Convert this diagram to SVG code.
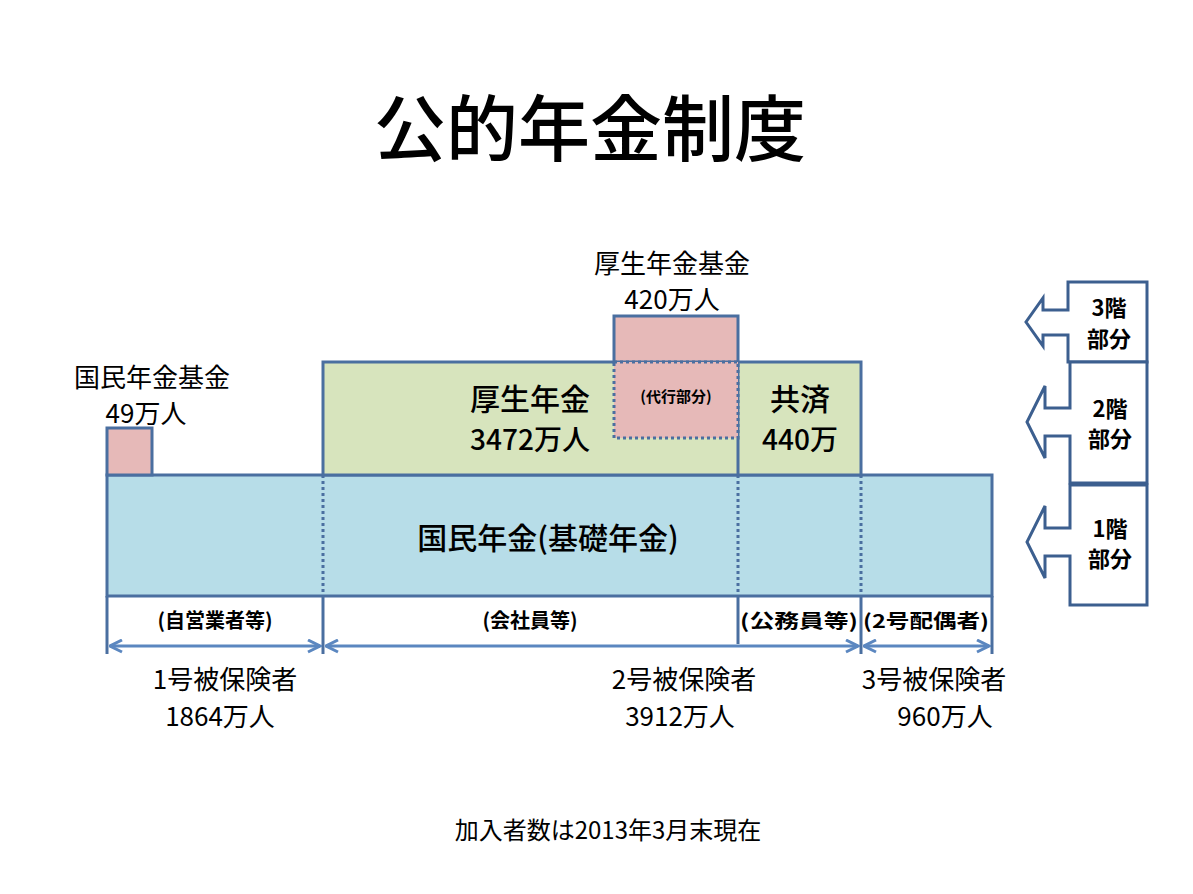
<svg xmlns="http://www.w3.org/2000/svg" width="1193" height="894" viewBox="0 0 1193 894">
<defs>
<style>
text{font-family:"Noto Sans CJK JP","Liberation Sans",sans-serif;fill:#000}
.b{stroke:#4a6fa0;stroke-width:3;fill:none}
.d{stroke:#4a6fa0;stroke-width:3;stroke-dasharray:3 3;fill:none}
.a{stroke:#5b87c0;stroke-width:3;fill:none;marker-start:url(#ah);marker-end:url(#ah)}
.c{stroke:#3c5f8f;stroke-width:3;fill:#fff}
</style>
<marker id="ah" viewBox="0 0 10 10" refX="9" refY="5" markerWidth="5" markerHeight="5" orient="auto-start-reverse"><path d="M1,1 L9,5 L1,9" fill="none" stroke="#5b87c0" stroke-width="2"/></marker>
</defs>
<rect width="1193" height="894" fill="#fff"/>
<text x="590" y="155" font-size="72" font-weight="500" text-anchor="middle">公的年金制度</text>
<g id="kokumin-base"><rect x="107" y="475" width="885" height="121" class="b" style="fill:#b7dde8"/>
<text x="548" y="549" font-size="30" font-weight="500" text-anchor="middle">国民年金(基礎年金)</text></g>
<g id="kosei"><rect x="323" y="362" width="538" height="113" style="fill:#d7e4bd" class="b"/>
<text x="530" y="410" font-size="30" font-weight="500" text-anchor="middle">厚生年金</text>
<text x="530" y="450" font-size="28" font-weight="500" text-anchor="middle">3472万人</text></g>
<g id="kyosai"><line x1="738" y1="362" x2="738" y2="475" class="b"/>
<text x="800" y="410" font-size="30" font-weight="500" text-anchor="middle">共済</text>
<text x="800" y="450" font-size="28" font-weight="500" text-anchor="middle">440万</text></g>
<g id="kikin"><rect x="614" y="316" width="124" height="46" style="fill:#e6b9b8" class="b"/>
<rect x="614" y="362" width="124" height="76" style="fill:#e6b9b8" class="d"/>
<text x="676" y="402" font-size="15" font-weight="bold" text-anchor="middle">(代行部分)</text>
<text x="672" y="273" font-size="26" text-anchor="middle">厚生年金基金</text>
<text x="672" y="309" font-size="26" text-anchor="middle">420万人</text></g>
<g id="kokumin-kikin"><rect x="107" y="428" width="45" height="47" style="fill:#e6b9b8" class="b"/>
<text x="152" y="387" font-size="26" text-anchor="middle">国民年金基金</text>
<text x="146" y="423" font-size="26" text-anchor="middle">49万人</text></g>
<g id="connectors">
<line x1="323" y1="475" x2="323" y2="596" class="d"/>
<line x1="738" y1="475" x2="738" y2="596" class="d"/>
<line x1="861" y1="475" x2="861" y2="596" class="d"/>
<line x1="107" y1="596" x2="107" y2="654" class="b"/>
<line x1="323" y1="596" x2="323" y2="654" class="b"/>
<line x1="738" y1="596" x2="738" y2="644" class="b"/>
<line x1="861" y1="596" x2="861" y2="654" class="b"/>
<line x1="992" y1="596" x2="992" y2="654" class="b"/>
<line x1="110" y1="646" x2="320" y2="646" class="a"/>
<line x1="326" y1="646" x2="858" y2="646" class="a"/>
<line x1="864" y1="646" x2="989" y2="646" class="a"/>
</g>
<g id="labels">
<text x="215" y="628" font-size="20" text-anchor="middle" font-weight="bold">(自営業者等)</text>
<text x="530" y="628" font-size="20" text-anchor="middle" font-weight="bold">(会社員等)</text>
<text x="799" y="628" font-size="19" text-anchor="middle" font-weight="bold" textLength="118" lengthAdjust="spacingAndGlyphs">(公務員等)</text>
<text x="926" y="628" font-size="19" text-anchor="middle" font-weight="bold" textLength="126" lengthAdjust="spacingAndGlyphs">(2号配偶者)</text>
</g>
<g id="counts">
<text x="225" y="689" font-size="26" text-anchor="middle">1号被保険者</text>
<text x="220" y="726" font-size="26" text-anchor="middle">1864万人</text>
<text x="684" y="689" font-size="26" text-anchor="middle">2号被保険者</text>
<text x="680" y="726" font-size="26" text-anchor="middle">3912万人</text>
<text x="934" y="689" font-size="26" text-anchor="middle">3号被保険者</text>
<text x="945" y="726" font-size="26" text-anchor="middle">960万人</text>
</g>
<g id="floor3"><path d="M1068,282 H1147 V362 H1068 V335 H1043 V346 L1026,322 L1043,298 V310 H1068 Z" class="c"/>
<text x="1109" y="316" font-size="22" font-weight="bold" text-anchor="middle">3階</text>
<text x="1109" y="347" font-size="22" font-weight="bold" text-anchor="middle">部分</text></g>
<g id="floor2"><path d="M1070,362 H1147 V483 H1070 V436 H1045 V458 L1027,422 L1045,386 V408 H1070 Z" class="c"/>
<text x="1110" y="417" font-size="22" font-weight="bold" text-anchor="middle">2階</text>
<text x="1110" y="447" font-size="22" font-weight="bold" text-anchor="middle">部分</text></g>
<g id="floor1"><path d="M1070,485 H1147 V605 H1070 V556 H1045 V578 L1027,542 L1045,506 V528 H1070 Z" class="c"/>
<text x="1110" y="537" font-size="22" font-weight="bold" text-anchor="middle">1階</text>
<text x="1110" y="567" font-size="22" font-weight="bold" text-anchor="middle">部分</text></g>
<text x="608" y="839" font-size="24" text-anchor="middle">加入者数は2013年3月末現在</text>
</svg>
